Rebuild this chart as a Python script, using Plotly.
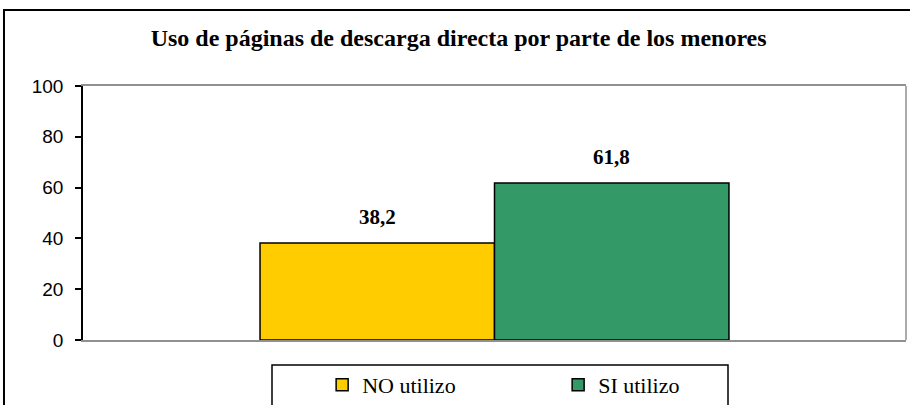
import plotly.graph_objects as go

categories = ["NO utilizo", "SI utilizo"]
values = [38.2, 61.8]
colors = ["#FFCC00", "#339966"]
y_ticks = [0, 20, 40, 60, 80, 100]
title = "Uso de páginas de descarga directa por parte de los menores"

fig = go.Figure()
for cat, val, col in zip(categories, values, colors):
    fig.add_trace(go.Bar(
        x=[cat], y=[val], name=cat, width=1.0,
        marker=dict(color=col, line=dict(color="black", width=1.5)),
        showlegend=True,
    ))
    fig.add_annotation(
        x=cat, y=val, text="<b>" + f"{val:.1f}".replace(".", ",") + "</b>",
        showarrow=False, yanchor="bottom", yshift=12,
        font=dict(family="Liberation Serif", size=21, color="black"),
    )

fig.update_layout(
    width=910, height=405,
    margin=dict(l=83, r=4, t=86, b=65, autoexpand=False),
    paper_bgcolor="white", plot_bgcolor="white",
    barmode="overlay",
    separators=",.",
    title=dict(text="<b>" + title + "</b>", x=0.504, xanchor="center",
               y=0.906, yanchor="middle",
               font=dict(family="Liberation Serif", size=24, color="black")),
    xaxis=dict(type="category", range=[-1.255, 2.255], showticklabels=False,
               showline=True, linecolor="#909090", linewidth=1.5, mirror=True,
               ticks="", showgrid=False, zeroline=False, automargin=False),
    yaxis=dict(range=[0, 100], tickvals=y_ticks, showgrid=False, zeroline=False,
               showline=True, linecolor="black", linewidth=1.5,
               ticks="outside", ticklen=6, tickcolor="black", tickwidth=1.5,
               ticklabelstandoff=8, automargin=False,
               tickfont=dict(family="Liberation Sans", size=19, color="black")),
    legend=dict(orientation="h", xref="container", yref="container",
                x=0.354, xanchor="left", y=(405 - 364) / 405, yanchor="top",
                entrywidth=191, entrywidthmode="pixels",
                font=dict(family="Liberation Serif", size=22, color="black"),
                bgcolor="rgba(0,0,0,0)", traceorder="normal"),
    shapes=[
        dict(type="line", xref="paper", yref="paper", x0=1, x1=1, y0=0, y1=1,
             line=dict(color="#909090", width=1.5)),
        dict(type="rect", xref="paper", yref="paper", x0=-0.096, x1=1.2,
             y0=-0.6, y1=1.299, line=dict(color="black", width=2)),
        dict(type="rect", xref="paper", yref="paper", x0=(272-83)/823, x1=(728-83)/823,
             y0=-0.4, y1=(340-365)/254, line=dict(color="black", width=1.5)),
    ],
)

fig.write_html("out.html", config={"displayModeBar": False},
               post_script="document.body.style.margin='0';document.body.style.overflow='hidden';")
